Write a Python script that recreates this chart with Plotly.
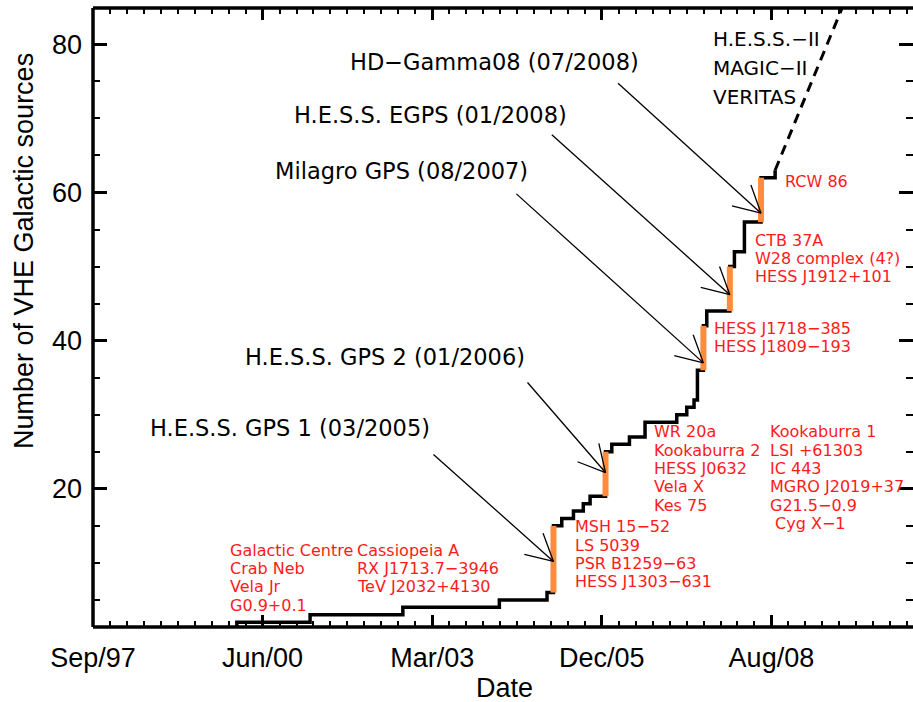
import math
import pandas as pd
import plotly.graph_objects as go

# ---------------- data ----------------
axis_start = pd.Timestamp("1997-09-15")

step_dates = ["1997-09-15", "2000-01-11", "2001-03-18", "2002-09-16", "2004-04-07",
              "2005-01-13", "2005-02-20", "2005-04-10", "2005-06-18", "2005-08-15",
              "2005-09-24", "2005-12-24", "2006-01-30", "2006-05-14", "2006-08-14",
              "2007-02-17", "2007-04-17", "2007-05-30", "2007-06-19", "2007-07-24",
              "2007-08-13", "2007-12-27", "2008-01-23", "2008-03-22", "2008-06-28",
              "2008-09-19"]
step_counts = [1, 2, 3, 4, 5,
               6, 15, 16, 17, 18,
               19, 25, 26, 27, 29,
               30, 31, 32, 36, 42,
               44, 50, 52, 56, 62,
               63]

proj_dates = ["2008-09-19", "2010-01-01"]
proj_counts = [63, 89]

survey_dates = ["2005-02-20", "2005-12-24", "2007-07-24", "2007-12-27", "2008-06-28"]
survey_low = [6, 19, 36, 44, 56]
survey_high = [15, 25, 42, 50, 62]
survey_names = ["H.E.S.S. GPS 1 (03/2005)", "H.E.S.S. GPS 2 (01/2006)",
                "Milagro GPS (08/2007)", "H.E.S.S. EGPS (01/2008)",
                "HD\u2212Gamma08 (07/2008)"]
arrow_values = [10.2, 22.2, 37.0, 46.2, 57.2]

tick_days = [0, 1000, 2000, 3000, 4000]
tick_labels = ["Sep/97", "Jun/00", "Mar/03", "Dec/05", "Aug/08"]
y_ticks = [20, 40, 60, 80]

future_lines = ["H.E.S.S.\u2212II", "MAGIC\u2212II", "VERITAS"]

src_groups = [
    ["Galactic Centre", "Crab Neb", "Vela Jr", "G0.9+0.1"],
    ["Cassiopeia A", "RX J1713.7\u22123946", "TeV J2032+4130"],
    ["MSH 15\u221252", "LS 5039", "PSR B1259\u221263", "HESS J1303\u2212631"],
    ["WR 20a", "Kookaburra 2", "HESS J0632", "Vela X", "Kes 75"],
    ["Kookaburra 1", "LSI +61303", "IC 443", "MGRO J2019+37", "G21.5\u22120.9", "\u00a0Cyg X\u22121"],
    ["HESS J1718\u2212385", "HESS J1809\u2212193"],
    ["CTB 37A", "W28 complex (4?)", "HESS J1912+101"],
    ["RCW 86"],
]

# ---------------- layout geometry ----------------
W, H = 913, 702
L, R, T, B = 93, 0, 8, 75
PW, PH = W - L - R, H - T - B


def pxx(x):
    return (x - L) / PW


def pxy(y):
    return (H - B - y) / PH


x_end = axis_start + pd.Timedelta(days=4835)
tick_vals = [axis_start + pd.Timedelta(days=d) for d in tick_days]

ORANGE = "#FF8C3C"
RED = "#FF1A1A"
TXT_FONT = "DejaVu Sans"
AX_FONT = "Liberation Sans"

fig = go.Figure()

fig.add_trace(go.Scatter(x=step_dates, y=step_counts, mode="lines",
                         line=dict(shape="hv", color="black", width=3.5),
                         hoverinfo="skip", showlegend=False))
fig.add_trace(go.Scatter(x=proj_dates, y=proj_counts, mode="lines",
                         line=dict(color="black", width=3, dash="10px,7px"),
                         hoverinfo="skip", showlegend=False))

bx, by = [], []
for d, lo, hi in zip(survey_dates, survey_low, survey_high):
    bx += [d, d, None]
    by += [lo, hi, None]
fig.add_trace(go.Scatter(x=bx, y=by, mode="lines",
                         line=dict(color=ORANGE, width=6),
                         hoverinfo="skip", showlegend=False))

shapes = []
# arrows: pixel offsets of tail from head (screen coords)
arrow_offsets = [(-120, -107), (-78, -90), (-187, -169), (-178, -160), (-143, -130)]
BARB = 30
for d, v, (dx, dy) in zip(survey_dates, arrow_values, arrow_offsets):
    base = dict(type="line", xref="x", yref="y", xsizemode="pixel", ysizemode="pixel",
                xanchor=d, yanchor=v, x0=0, y0=0, line=dict(color="black", width=1.3),
                layer="above")
    shapes.append(dict(base, x1=dx, y1=-dy))
    ang = math.atan2(dy, dx)
    for s in (-1, 1):
        a = ang + s * math.radians(28)
        shapes.append(dict(base, x1=BARB * math.cos(a), y1=-BARB * math.sin(a)))

# axis frame lines (left, bottom, top)
frame = dict(type="line", xref="paper", yref="paper", line=dict(color="black", width=3.5), layer="above")
shapes.append(dict(frame, x0=0, x1=0, y0=0, y1=1))
shapes.append(dict(frame, x0=0, x1=1, y0=0, y1=0))
shapes.append(dict(frame, x0=0, x1=1, y0=1, y1=1))

annotations = []
# survey labels (black)
survey_label_pos = [(148, 428), (243, 357), (273, 171), (292, 115), (348, 62)]
for name, (x, y) in zip(survey_names, survey_label_pos):
    annotations.append(dict(text=name, xref="paper", yref="paper", x=pxx(x), y=pxy(y),
                            xanchor="left", yanchor="middle", showarrow=False,
                            font=dict(family=TXT_FONT, size=22.5, color="black")))
for i, t in enumerate(future_lines):
    annotations.append(dict(text=t, xref="paper", yref="paper", x=pxx(711), y=pxy(39 + 29 * i),
                            xanchor="left", yanchor="middle", showarrow=False,
                            font=dict(family=TXT_FONT, size=20, color="black")))

group_pos = [(228, 550), (355, 550), (572.7, 526.7), (651.7, 431.7), (767.7, 431.7),
             (711.7, 328.3), (752.7, 240), (782.7, 181)]
for lines, (x, y) in zip(src_groups, group_pos):
    for i, t in enumerate(lines):
        annotations.append(dict(text=t, xref="paper", yref="paper", x=pxx(x), y=pxy(y + 18.4 * i),
                                xanchor="left", yanchor="middle", showarrow=False,
                                font=dict(family=TXT_FONT, size=16, color=RED)))

annotations.append(dict(text="Number of VHE Galactic sources", xref="paper", yref="paper",
                        x=pxx(24), y=pxy(251), textangle=-90, xanchor="center", yanchor="middle",
                        showarrow=False, font=dict(family=AX_FONT, size=27, color="black")))
annotations.append(dict(text="Date", xref="paper", yref="paper",
                        x=pxx(504), y=pxy(688), xanchor="center", yanchor="middle",
                        showarrow=False, font=dict(family=AX_FONT, size=27, color="black")))

fig.update_layout(
    width=W, height=H, margin=dict(l=L, r=R, t=T, b=B, pad=0),
    paper_bgcolor="white", plot_bgcolor="white", showlegend=False,
    shapes=shapes, annotations=annotations,
    xaxis=dict(type="date", range=[axis_start, x_end], tickmode="array",
               tickvals=tick_vals, ticktext=tick_labels,
               ticks="inside", ticklen=12, tickwidth=2.5, tickcolor="black",
               showline=False, mirror="ticks", showgrid=False, zeroline=False,
               ticklabelstandoff=12,
               tickfont=dict(family=AX_FONT, size=27, color="black"),
               minor=dict(ticks="inside", ticklen=6, tickwidth=2, tickcolor="black",
                          tickmode="linear", tick0=axis_start, dtick=86400000 * 100,
                          showgrid=False)),
    yaxis=dict(range=[1.35, 84.9], tickmode="array", tickvals=y_ticks,
               ticks="inside", ticklen=14, tickwidth=2.5, tickcolor="black",
               showline=False, mirror="ticks", showgrid=False, zeroline=False,
               ticklabelstandoff=10,
               tickfont=dict(family=AX_FONT, size=27, color="black"),
               minor=dict(ticks="inside", ticklen=7, tickwidth=2, tickcolor="black",
                          tickmode="linear", tick0=0, dtick=5, showgrid=False)),
)

fig.write_html("out.html")
